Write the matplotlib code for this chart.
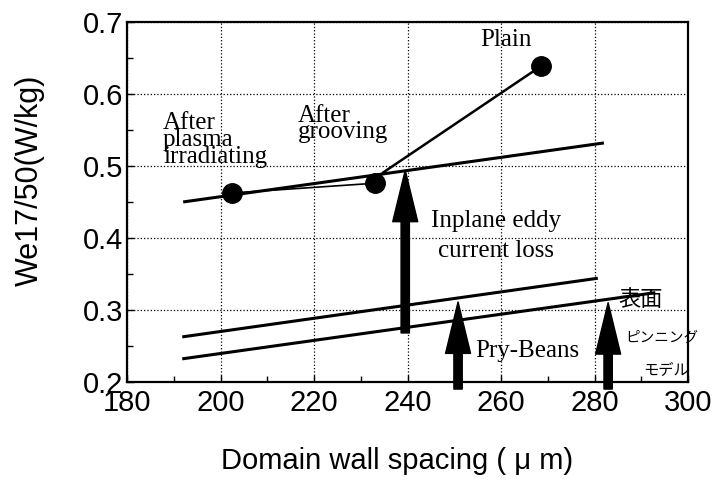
import matplotlib
matplotlib.use('Agg')
import matplotlib.pyplot as plt
from matplotlib.ticker import MultipleLocator

# measured points (domain wall spacing um, loss W/kg)
point_labels = ['After plasma irradiating', 'After grooving', 'Plain']
point_x = [202.5, 233.0, 268.6]
point_y = [0.4625, 0.476, 0.639]

# line from the grooving point up to the plain point
plain_line_x = [234.8, 268.6]
plain_line_y = [0.491, 0.639]

# fitted lines
upper_x = [192.0, 282.0]
upper_y = [0.450, 0.532]
middle_x = [191.8, 280.7]
middle_y = [0.2625, 0.344]
lower_x = [191.8, 293.0]
lower_y = [0.232, 0.324]

# arrows: (x, tail y, tip y)
arrow_x = [239.5, 250.8, 282.9]
arrow_tail = [0.268, 0.19, 0.19]
arrow_tip = [0.494, 0.311, 0.310]

sans = 'Liberation Sans'
serif = 'Liberation Serif'
jp = ['Noto Sans CJK JP', 'DejaVu Sans']

fig = plt.figure(figsize=(7.22, 4.84), dpi=100)
ax = fig.add_axes([0.176, 0.211, 0.777, 0.7435])

ax.set_xlim(180, 300)
ax.set_ylim(0.2, 0.7)
ax.xaxis.set_major_locator(MultipleLocator(20))
ax.xaxis.set_minor_locator(MultipleLocator(10))
ax.yaxis.set_major_locator(MultipleLocator(0.1))
ax.yaxis.set_minor_locator(MultipleLocator(0.05))
ax.yaxis.set_major_formatter(plt.FormatStrFormatter('%.1f'))
ax.grid(True, which='major', color='black', linestyle=':', linewidth=0.9)
ax.tick_params(which='both', direction='in', color='black')
ax.tick_params(which='major', length=5, width=1)
ax.tick_params(which='minor', length=4, width=1)
ax.tick_params(axis='y', which='major', pad=3)
ax.tick_params(axis='x', which='major', pad=5)
for lab in ax.get_xticklabels() + ax.get_yticklabels():
    lab.set_fontfamily(sans)
    lab.set_fontsize(21)
for sp in ax.spines.values():
    sp.set_linewidth(1.6)

# lines
ax.plot(upper_x, upper_y, color='black', lw=2.2, solid_capstyle='butt')
ax.plot(middle_x, middle_y, color='black', lw=2.2, solid_capstyle='butt')
ax.plot(lower_x, lower_y, color='black', lw=2.2, solid_capstyle='butt')
ax.plot(point_x[:2], point_y[:2], color='black', lw=1.2)
ax.plot(plain_line_x, plain_line_y, color='black', lw=1.8)
ax.plot(point_x, point_y, 'o', color='black', markersize=14, zorder=5)

# arrows
for x, t0, t1 in zip(arrow_x, arrow_tail, arrow_tip):
    ax.annotate('', xy=(x, t1), xytext=(x, t0),
                arrowprops=dict(width=6, headwidth=18, headlength=37,
                                shrink=0, color='black'),
                annotation_clip=False, zorder=6)

# labels (multi-line texts are placed by the baseline of their last line)
ax.text(255.5, 0.667, 'Plain', family=serif, fontsize=18, ha='left', va='baseline')
ax.text(187.7, 0.504, 'After\nplasma\nirradiating', family=serif, fontsize=18,
        ha='left', va='baseline', linespacing=0.7)
ax.text(216.6, 0.539, 'After\ngrooving', family=serif, fontsize=18,
        ha='left', va='baseline', linespacing=0.65)
ax.text(259.0, 0.374, 'Inplane eddy\ncurrent loss', family=serif, fontsize=18,
        ha='center', va='baseline', linespacing=1.45, multialignment='center')
ax.text(254.4, 0.235, 'Pry-Beans', family=serif, fontsize=18, ha='left', va='baseline')
ax.text(285.0, 0.314, '表面', family=jp, fontsize=16, ha='left', va='center')
ax.text(286.5, 0.261, 'ピンニング', family=jp, fontsize=10.5, ha='left', va='center',
        clip_on=False)
ax.text(290.5, 0.2167, 'モデル', family=jp, fontsize=11, ha='left', va='center',
        clip_on=False)

ax.set_xlabel('Domain wall spacing ( μ m)', family=sans, fontsize=21)
ax.xaxis.set_label_coords(0.482, -0.18)
ax.set_ylabel('We17/50(W/kg)', family=sans, fontsize=22)
ax.yaxis.set_label_coords(-0.146, 0.56)

fig.savefig('out.png', dpi=100)
